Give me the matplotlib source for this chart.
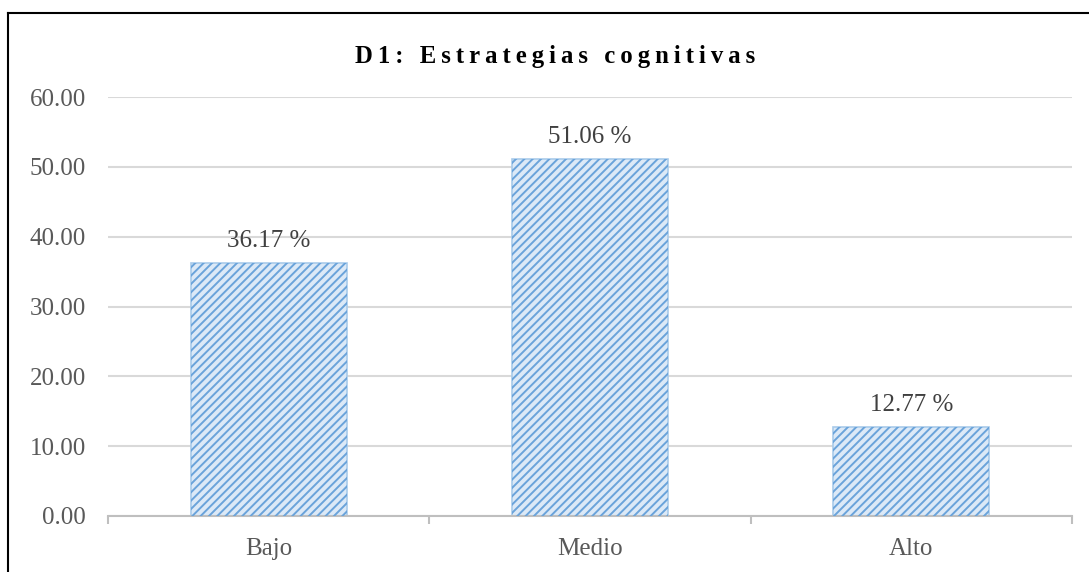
import matplotlib
matplotlib.use("Agg")
import matplotlib.pyplot as plt
from matplotlib.lines import Line2D

categories = ["Bajo", "Medio", "Alto"]
values = [36.17, 51.06, 12.77]
yticks = [0, 10, 20, 30, 40, 50, 60]
title = "D1: Estrategias cognitivas"

plt.rcParams['font.family'] = ['Liberation Serif', 'DejaVu Serif']
plt.rcParams['hatch.linewidth'] = 1.4

W, H = 1089, 572
fig = plt.figure(figsize=(W / 100, H / 100), dpi=100)
ax = fig.add_axes([108 / W, 1 - 516 / H, (1072 - 108) / W, (516 - 97) / H])

x = list(range(len(categories)))
ax.bar(x, values, width=0.486, color="#dce9f7", edgecolor="#a9cbea", linewidth=1.2, zorder=2)
ax.bar(x, values, width=0.486, color="none", edgecolor="#6aa3da", hatch="////", linewidth=0, zorder=3)

for xi, v in zip(x, values):
    ax.annotate(f"{v:.2f} %", (xi, v), xytext=(0, 8), textcoords="offset points",
                ha="center", va="bottom", fontsize=18, color="#404040")

ax.set_xlim(-0.5, len(categories) - 0.5)
ax.set_ylim(0, 60)
ax.set_yticks(yticks)
ax.set_yticklabels([f"{t:.2f}" for t in yticks], fontsize=18, color="#595959")
ax.tick_params(axis="y", length=0, pad=16)
ax.yaxis.grid(True, color="#d9d9d9", linewidth=1.5, zorder=0)
ax.set_axisbelow(True)

ax.set_xticks([i - 0.5 for i in range(len(categories) + 1)])
ax.set_xticklabels([])
ax.set_xticks(x, minor=True)
ax.set_xticklabels(categories, minor=True, fontsize=18, color="#595959")
ax.tick_params(axis="x", which="major", direction="out", length=6, width=1.5, color="#bfbfbf")
ax.tick_params(axis="x", which="minor", length=0, pad=16)

for s in ["top", "right", "left"]:
    ax.spines[s].set_visible(False)
ax.spines["bottom"].set_color("#bfbfbf")
ax.spines["bottom"].set_linewidth(1.5)

spaced = "\u2009".join(title)
fig.text(555 / W, 1 - 56 / H, spaced, ha="center", va="center", fontsize=17.8,
         fontweight="bold", color="black")

fig.add_artist(Line2D([8 / W, 1], [1 - 13 / H, 1 - 13 / H], transform=fig.transFigure,
                      color="black", linewidth=1.5))
fig.add_artist(Line2D([8 / W, 8 / W], [0, 1 - 13 / H], transform=fig.transFigure,
                      color="black", linewidth=1.5))

fig.savefig("out.png", dpi=100)
